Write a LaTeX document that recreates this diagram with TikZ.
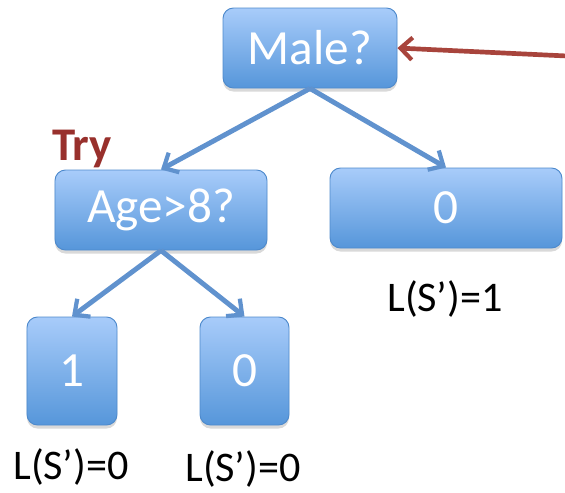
\documentclass[tikz,border=0pt]{standalone}
\usepackage{fontspec}
\setmainfont{Carlito}
\usetikzlibrary{shadows,arrows.meta}

\definecolor{boxtop}{RGB}{168,204,250}
\definecolor{boxbot}{RGB}{86,150,218}
\definecolor{boxline}{RGB}{78,138,204}
\definecolor{edgeblue}{RGB}{96,146,206}
\definecolor{tryred}{RGB}{152,48,44}
\definecolor{pointred}{RGB}{168,68,60}

\begin{document}
\begin{tikzpicture}[x=0.03cm,y=-0.03cm,
  treebox/.style={draw=boxline,line width=0.8pt,rounded corners=9pt,
    top color=boxtop,bottom color=boxbot,text=white,inner sep=0pt,
    font=\fontsize{42}{44}\selectfont,
    drop shadow={opacity=0.3,shadow xshift=0pt,shadow yshift=-3pt}},
  edge/.style={draw=edgeblue,line width=4.2pt,
    -{Straight Barb[length=10pt,width=19pt,line width=3.6pt]}},
  loss/.style={font=\fontsize{36}{38}\selectfont}]
  \useasboundingbox (0,0) rectangle (565,492);

  % the tree
  \node[treebox,minimum width=5.22cm,minimum height=2.4cm] (male) at (310,48) {Male?};
  \node[treebox,minimum width=6.36cm,minimum height=2.4cm] (age) at (161,210) {Age>8?};
  \node[treebox,minimum width=6.96cm,minimum height=2.4cm] (right) at (446,208) {0};
  \node[treebox,minimum width=2.7cm,minimum height=3.24cm] (leafa) at (72,371) {1};
  \node[treebox,minimum width=2.67cm,minimum height=3.24cm] (leafb) at (244.5,371) {0};

  \draw[edge] (male.south) -- (age.north);
  \draw[edge] (male.south) -- (right.north);
  \draw[edge] (age.south) -- (leafa.north);
  \draw[edge] (age.south) -- (leafb.north);

  % labels
  \node[text=tryred,font=\fontsize{40}{42}\selectfont\bfseries] (try) at (82,149) {Try};
  \node[loss] (lossr) at (445,299) {L(S’)=1};
  \node[loss] (lossa) at (71,467) {L(S’)=0};
  \node[loss] (lossb) at (243,469) {L(S’)=0};

  % pointer from the right
  \coordinate (src) at (567,56);
  \draw[pointred,line width=4pt,-{Straight Barb[length=10pt,width=19pt,line width=3.6pt]}]
    (src) -- (male.east);
\end{tikzpicture}
\end{document}
